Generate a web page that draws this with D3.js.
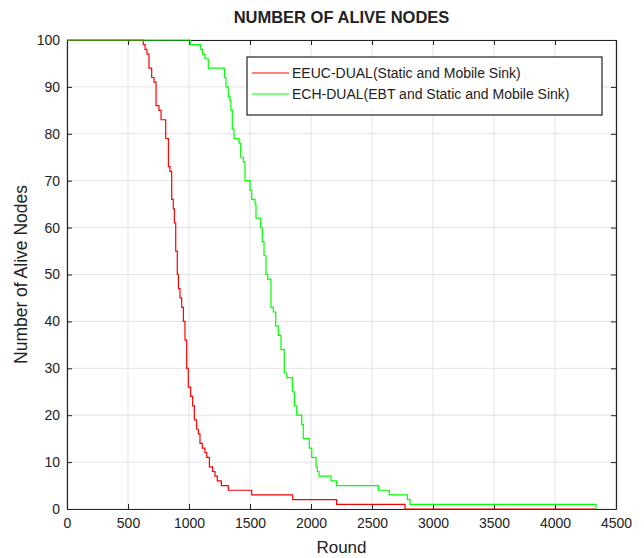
<!DOCTYPE html>
<html>
<head>
<meta charset="utf-8">
<script src="https://cdn.jsdelivr.net/npm/d3@7"></script>
<style>
  body { margin: 0; background: #fff; }
  text { font-family: Arial, "Liberation Sans", sans-serif; fill: #222; }
</style>
</head>
<body>
<div class="chart-line"></div>
<script>
// 数据：轮数 / 存活节点数（阶梯）
var redRound = [0, 625, 640, 655, 672, 694, 713, 730, 754, 771, 809, 831, 844, 858, 871, 880, 891, 904, 913, 926, 940, 954, 967, 981, 994, 1014, 1030, 1044, 1063, 1077, 1090, 1109, 1131, 1145, 1167, 1194, 1213, 1232, 1265, 1322, 1514, 1850, 2210, 2771, 4336];
var redAlive = [100, 99, 98, 97, 94, 92, 91, 86, 85, 83, 79, 73, 72, 66, 64, 61, 55, 50, 47, 45, 43, 40, 36, 30, 26, 24, 22, 19, 17, 16, 14, 13, 12, 11, 9, 8, 7, 6, 5, 4, 3, 2, 1, 0, 0];
var greenRound = [0, 1010, 1096, 1112, 1131, 1158, 1290, 1303, 1322, 1336, 1344, 1355, 1369, 1410, 1424, 1445, 1459, 1500, 1514, 1541, 1549, 1588, 1601, 1615, 1631, 1645, 1672, 1691, 1711, 1732, 1754, 1781, 1801, 1847, 1864, 1883, 1924, 1937, 1986, 2006, 2041, 2052, 2066, 2164, 2210, 2552, 2642, 2790, 2812, 4336];
var greenAlive = [100, 99, 98, 97, 96, 94, 92, 90, 88, 87, 85, 81, 79, 78, 75, 74, 70, 68, 66, 65, 62, 60, 57, 54, 50, 49, 43, 42, 39, 37, 34, 29, 28, 25, 22, 20, 18, 15, 13, 11, 9, 8, 7, 6, 5, 4, 3, 2, 1, 0];
var xTicks = [0, 500, 1000, 1500, 2000, 2500, 3000, 3500, 4000, 4500];
var yTicks = [0, 10, 20, 30, 40, 50, 60, 70, 80, 90, 100];
var seriesNames = ["EEUC-DUAL(Static and Mobile Sink)", "ECH-DUAL(EBT and Static and Mobile Sink)"];
var seriesColors = ["#ff0000", "#00ff00"];

var W = 644, H = 558;
var m = { left: 67, right: 28, top: 40, bottom: 49 };
var w = W - m.left - m.right, h = H - m.top - m.bottom;

var svg = d3.select(".chart-line").append("svg")
  .attr("width", W).attr("height", H);

var xScale = d3.scaleLinear().domain([0, 4500]).range([0, w]);
var yScale = d3.scaleLinear().domain([0, 100]).range([h, 0]);

var chart = svg.append("g").attr("transform", "translate(" + m.left + "," + m.top + ")");

// 网格线
chart.append("g").attr("class", "grid")
  .selectAll("line.gx").data(xTicks).enter().append("line")
  .attr("x1", d => xScale(d)).attr("x2", d => xScale(d))
  .attr("y1", 0).attr("y2", h)
  .attr("stroke", "#e3e3e3").attr("stroke-width", 1);
chart.select(".grid")
  .selectAll("line.gy").data(yTicks).enter().append("line")
  .attr("x1", 0).attr("x2", w)
  .attr("y1", d => yScale(d)).attr("y2", d => yScale(d))
  .attr("stroke", "#e3e3e3").attr("stroke-width", 1);

// 坐标轴（刻度向内）
var fmt = d3.format("d");
chart.append("g").attr("transform", "translate(0," + h + ")")
  .call(d3.axisBottom(xScale).tickValues(xTicks).tickFormat(fmt).tickSizeInner(-5).tickSizeOuter(0).tickPadding(9));
chart.append("g")
  .call(d3.axisTop(xScale).tickValues(xTicks).tickSizeInner(-5).tickSizeOuter(0).tickFormat(""));
chart.append("g")
  .call(d3.axisLeft(yScale).tickValues(yTicks).tickFormat(fmt).tickSizeInner(-5).tickSizeOuter(0).tickPadding(7));
chart.append("g").attr("transform", "translate(" + w + ",0)")
  .call(d3.axisRight(yScale).tickValues(yTicks).tickSizeInner(-5).tickSizeOuter(0).tickFormat(""));

svg.selectAll(".tick text").style("font-size", "14px").style("fill", "#222")
  .style("font-family", "Arial, 'Liberation Sans', sans-serif");
svg.selectAll(".domain").attr("stroke", "#222").attr("stroke-width", 1.2);
svg.selectAll(".tick line").attr("stroke", "#222");

// 阶梯折线
var series = [
  redRound.map((r, i) => ({ x: r, y: redAlive[i] })),
  greenRound.map((r, i) => ({ x: r, y: greenAlive[i] }))
];
var line = d3.line().x(d => xScale(d.x)).y(d => yScale(d.y)).curve(d3.curveStepAfter);
chart.selectAll(".series").data(series).enter().append("path")
  .attr("class", "series")
  .attr("d", line)
  .attr("fill", "none")
  .attr("stroke", (d, i) => seriesColors[i])
  .attr("stroke-width", 1.2);

// 标题与轴标签
svg.append("text").attr("x", m.left + w / 2).attr("y", 23)
  .attr("text-anchor", "middle").style("font-size", "16.5px").style("font-weight", "bold")
  .text("NUMBER OF ALIVE NODES");
svg.append("text").attr("x", m.left + w / 2).attr("y", 553)
  .attr("text-anchor", "middle").style("font-size", "17px")
  .text("Round");
svg.append("text")
  .attr("transform", "translate(27," + (m.top + h / 2) + ") rotate(-90)")
  .attr("text-anchor", "middle").style("font-size", "17.5px")
  .text("Number of Alive Nodes");

// 图例
var legend = svg.append("g").attr("transform", "translate(247,57)");
legend.append("rect").attr("width", 355).attr("height", 58)
  .attr("fill", "#fff").attr("stroke", "#222").attr("stroke-width", 1.2);
var items = legend.selectAll(".item").data(seriesNames).enter().append("g")
  .attr("transform", (d, i) => "translate(0," + (16 + i * 21) + ")");
items.append("line").attr("x1", 5).attr("x2", 42).attr("y1", 0).attr("y2", 0)
  .attr("stroke", (d, i) => seriesColors[i]).attr("stroke-width", 1.2);
items.append("text").attr("x", 45).attr("y", 5)
  .style("font-size", "14px").text(d => d);
</script>
</body>
</html>
